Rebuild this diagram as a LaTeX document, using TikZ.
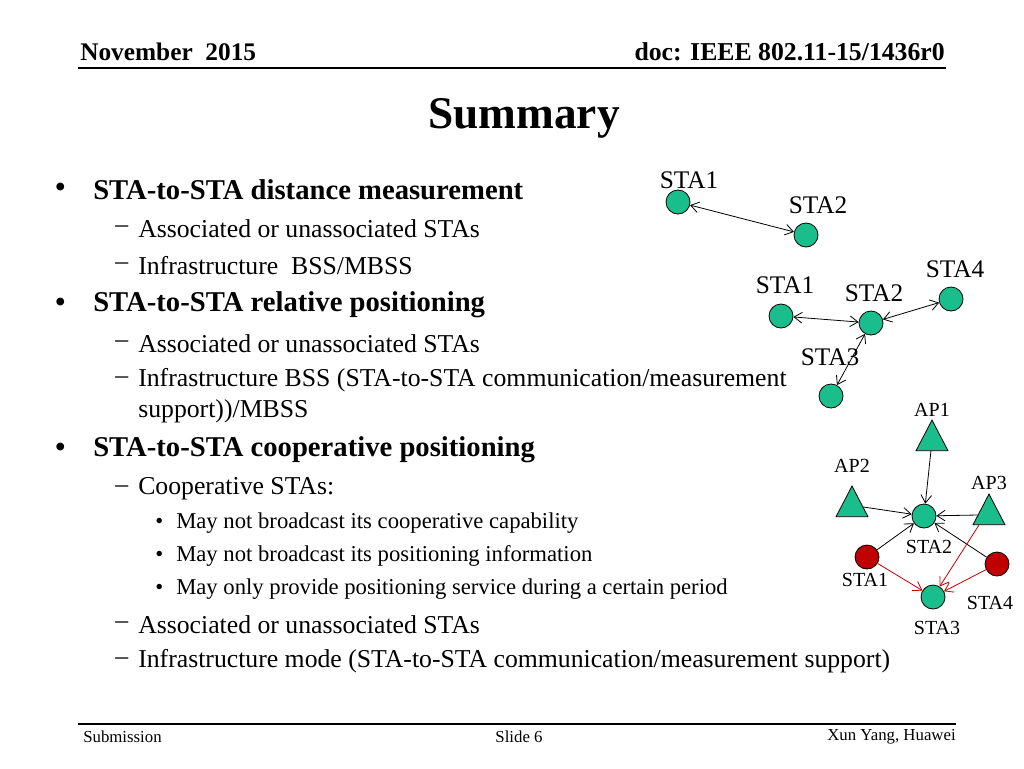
\documentclass[tikz,border=0pt]{standalone}
\usepackage{fontspec}
\setmainfont{Liberation Serif}
\usetikzlibrary{arrows.meta,shapes.geometric}
\definecolor{stag}{RGB}{26,190,140}
\definecolor{star}{RGB}{192,0,0}
\tikzset{
 sta/.style={circle,draw=black,fill=stag,minimum size=18pt,inner sep=0pt,line width=0.6pt},
 stared/.style={sta,fill=star},
 ap/.style={isosceles triangle,isosceles triangle apex angle=55,shape border rotate=90,draw=black,fill=stag,minimum height=23pt,minimum width=18pt,inner sep=0pt,line width=0.6pt},
 lab/.style={font=\fontsize{19}{21}\selectfont,inner sep=0pt},
 slab/.style={font=\fontsize{15}{17}\selectfont,inner sep=0pt},
 conn/.style={-{Straight Barb[length=6pt,width=8pt]},line width=0.6pt},
 bi/.style={{Straight Barb[length=6pt,width=8pt]}-{Straight Barb[length=6pt,width=8pt]},line width=0.6pt},
 rc/.style={conn,draw=star},
 b1/.style={anchor=west,font=\bfseries\fontsize{21.5}{24}\selectfont,inner sep=0pt},
 b2/.style={anchor=west,font=\fontsize{19.3}{22}\selectfont,inner sep=0pt},
 b3/.style={anchor=west,font=\fontsize{17}{19}\selectfont,inner sep=0pt},
}
\begin{document}
\begin{tikzpicture}[x=0.75pt,y=-0.75pt]
\useasboundingbox (0,0) rectangle (1024,768);
% header/footer
\node[anchor=west,font=\bfseries\fontsize{19}{21}\selectfont,inner sep=0pt] (hd1) at (80,52) {November\ \ 2015};
\node[anchor=east,font=\bfseries\fontsize{19.3}{21}\selectfont,inner sep=0pt] (hd2) at (945,52) {doc: IEEE 802.11-15/1436r0};
\draw[line width=0.8pt] (78,68) -- (946,68);
\node[font=\bfseries\fontsize{34}{38}\selectfont,inner sep=0pt] (title) at (524,118) {Summary};
\draw[line width=0.8pt] (78,724) -- (956,724);
\node[anchor=west,font=\fontsize{12.6}{14}\selectfont,inner sep=0pt] (f1) at (83,737) {Submission};
\node[font=\fontsize{12.6}{14}\selectfont,inner sep=0pt] (f2) at (519,737) {Slide 6};
\node[anchor=east,font=\fontsize{12.6}{14}\selectfont,inner sep=0pt] (f3) at (956,737) {Xun Yang, Huawei};
% bullets
\foreach \y/\t [count=\i] in {190/{STA-to-STA distance measurement},305/{STA-to-STA relative positioning},450/{STA-to-STA cooperative positioning}}{
 \node[b1] (bd\i) at (55,\y) {•};
 \node[b1] (bt\i) at (93,\y) {\t};
}
\foreach \y/\t [count=\i] in {229/{Associated or unassociated STAs},266/{Infrastructure\ \ BSS/MBSS},344/{Associated or unassociated STAs},380/{Infrastructure BSS (STA-to-STA communication/measurement},489/{Cooperative STAs:},625/{Associated or unassociated STAs},661/{Infrastructure mode (STA-to-STA communication/measurement support)}}{
 \node[b2] (sd\i) at (115,\y) {–};
 \node[b2] (st\i) at (138,\y) {\t};
}
\node[b2] (st8) at (138,411) {support))/MBSS};
\foreach \y/\t [count=\i] in {523/{May not broadcast its cooperative capability},556/{May not broadcast its positioning information},589/{May only provide positioning service during a certain period}}{
 \node[b3] (td\i) at (155,\y) {•};
 \node[b3] (tt\i) at (176,\y) {\t};
}
% diagram 1
\node[sta] (a1) at (678,202) {};
\node[sta] (a2) at (806,235) {};
\node[lab] at (689,180) {STA1};
\node[lab] at (818,205) {STA2};
\draw[bi] (a1) -- (a2);
% diagram 2
\node[sta] (b1) at (781,316) {};
\node[sta] (b2) at (871,323) {};
\node[sta] (b4) at (951,299) {};
\node[sta] (b3) at (831,396) {};
\node[lab] at (785,285) {STA1};
\node[lab] at (874,293) {STA2};
\node[lab] at (955,269) {STA4};
\node[lab] at (830,357) {STA3};
\draw[bi] (b1) -- (b2);
\draw[bi] (b2) -- (b4);
\draw[bi] (b2) -- (b3);
% diagram 3
\node[ap] (p1) at (932,441) {};
\node[ap] (p2) at (852,507) {};
\node[ap] (p3) at (989,515) {};
\node[sta] (c2) at (924,516) {};
\node[stared] (c1) at (867,557) {};
\node[stared] (c4) at (997,564) {};
\node[sta] (c3) at (933,597) {};
\node[slab] at (932,410) {AP1};
\node[slab] at (852,466) {AP2};
\node[slab] at (989,483) {AP3};
\node[slab] at (929,547) {STA2};
\node[slab] at (865,580) {STA1};
\node[slab] at (990,603) {STA4};
\node[slab] at (937,628) {STA3};
\draw[conn] (p1) -- (c2);
\draw[conn] (p2.east) -- (c2);
\draw[conn] (p3.west) -- (c2);
\draw[conn] (c1) -- (c2);
\draw[conn] (c4) -- (c2);
\draw[rc] (c1) -- (c3);
\draw[rc] (p3.south west) -- (c3);
\draw[rc] (c4) -- (c3);
\end{tikzpicture}
\end{document}
